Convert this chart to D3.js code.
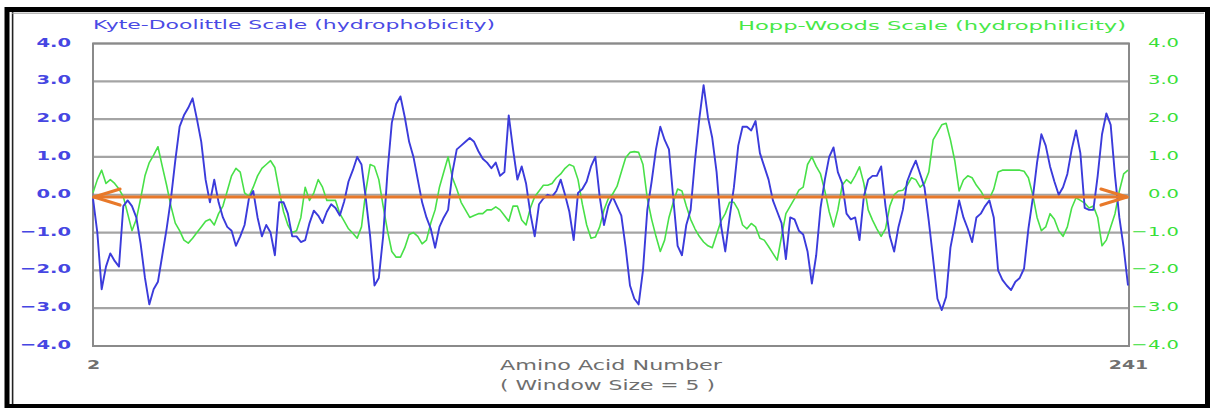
<!DOCTYPE html>
<html><head><meta charset="utf-8">
<script src="https://cdn.jsdelivr.net/npm/d3@7"></script>
<style>body{margin:0;background:#fff}svg{display:block}</style>
</head><body><svg id="c" width="1212" height="408"></svg>
<script>
// ---------- data ----------
const firstResidue = 2;
const lastResidue = 241;
// Kyte-Doolittle hydrophobicity, residues 2..241 (window 5)
const kyteDoolittle = [
 -0.1,-1.0,-2.5,-1.9,-1.55,-1.75,-1.9,-0.3,-0.15,
 -0.3,-0.6,-1.3,-2.2,-2.9,-2.5,-2.3,-1.6,-0.9,-0.1,
 0.9,1.8,2.1,2.3,2.55,2.0,1.4,0.4,-0.2,0.4,
 -0.2,-0.6,-0.85,-0.95,-1.35,-1.1,-0.8,-0.1,0.1,-0.6,
 -1.1,-0.8,-1.0,-1.6,-0.2,-0.2,-0.5,-1.1,-1.1,-1.25,
 -1.2,-0.75,-0.42,-0.55,-0.75,-0.45,-0.25,-0.35,-0.55,-0.18,
 0.35,0.65,1.0,0.8,-0.1,-1.1,-2.4,-2.2,-1.1,0.6,
 1.9,2.4,2.6,2.05,1.4,1.0,0.4,-0.2,-0.6,-0.9,
 -1.4,-0.85,-0.6,-0.4,0.6,1.2,1.3,1.4,1.5,1.4,
 1.15,0.95,0.85,0.7,0.85,0.5,0.6,2.1,1.2,0.4,
 0.75,0.3,-0.5,-1.1,-0.25,-0.1,0.0,-0.05,0.1,0.4,
 0.0,-0.45,-1.2,0.05,0.15,0.35,0.75,1.0,-0.05,-0.8,
 -0.3,-0.05,-0.3,-0.55,-1.4,-2.4,-2.75,-2.9,-2.0,-0.4,
 0.35,1.2,1.8,1.45,1.2,-0.1,-1.35,-1.6,-0.8,-0.4,
 0.9,2.0,2.9,2.05,1.5,0.6,-0.8,-1.5,-0.6,0.2,
 1.3,1.8,1.8,1.7,1.95,1.1,0.75,0.4,-0.15,-0.45,
 -0.75,-1.7,-0.6,-0.65,-0.95,-1.05,-1.5,-2.35,-1.6,-0.35,
 0.4,1.0,1.25,0.6,0.3,-0.5,-0.65,-0.6,-1.2,-0.05,
 0.4,0.5,0.5,0.75,-0.3,-1.1,-1.5,-0.85,-0.4,0.35,
 0.65,0.9,0.55,0.2,-0.7,-1.7,-2.75,-3.05,-2.7,-1.4,
 -0.8,-0.15,-0.6,-0.9,-1.25,-0.6,-0.5,-0.3,-0.15,-0.6,
 -2.0,-2.25,-2.4,-2.52,-2.3,-2.2,-1.95,-0.9,-0.1,0.85,
 1.6,1.3,0.75,0.35,0.0,0.2,0.55,1.2,1.7,1.1,
 -0.35,-0.4,-0.4,0.5,1.6,2.15,1.85,0.5,-0.6,-1.4,-2.4
];
// Hopp-Woods hydrophilicity, residues 2..241 (window 5)
const hoppWoods = [
 0.05,0.4,0.65,0.3,0.4,0.3,0.15,-0.05,-0.5,
 -0.95,-0.65,-0.1,0.5,0.85,1.05,1.27,0.75,0.25,-0.3,
 -0.75,-0.95,-1.2,-1.28,-1.15,-1.0,-0.85,-0.7,-0.65,-0.8,
 -0.5,-0.3,0.1,0.5,0.7,0.6,0.05,-0.05,0.2,0.5,
 0.7,0.8,0.9,0.72,0.1,-0.45,-0.8,-1.0,-0.95,-0.6,
 0.2,-0.15,0.05,0.4,0.2,-0.15,-0.15,-0.15,-0.5,-0.7,
 -0.9,-1.02,-1.15,-0.85,0.1,0.8,0.75,0.4,-0.3,-0.95,
 -1.5,-1.65,-1.65,-1.4,-1.05,-1.0,-1.1,-1.3,-1.2,-0.75,
 -0.4,0.2,0.6,1.0,0.45,0.15,-0.2,-0.4,-0.6,-0.55,
 -0.5,-0.5,-0.4,-0.4,-0.32,-0.4,-0.55,-0.7,-0.3,-0.3,
 -0.67,-0.8,-0.35,-0.05,0.1,0.25,0.25,0.3,0.45,0.55,
 0.7,0.8,0.75,0.4,-0.25,-0.8,-1.15,-1.12,-0.85,-0.4,
 -0.1,0.02,0.22,0.6,0.98,1.12,1.14,1.12,0.8,-0.1,
 -0.65,-1.1,-1.5,-1.2,-0.6,-0.2,0.15,0.1,-0.3,-0.65,
 -0.9,-1.1,-1.25,-1.35,-1.4,-1.05,-0.7,-0.5,-0.2,-0.2,
 -0.4,-0.8,-0.9,-0.76,-0.85,-1.15,-1.2,-1.37,-1.55,-1.73,
 -1.1,-0.5,-0.3,-0.1,0.12,0.2,0.8,1.0,0.75,0.55,
 0.1,-0.45,-0.85,-0.4,0.25,0.4,0.3,0.5,0.74,0.3,
 -0.4,-0.67,-0.9,-1.1,-0.9,-0.3,0.0,0.1,0.12,0.25,
 0.45,0.4,0.2,0.3,0.6,1.45,1.65,1.85,1.89,1.45,
 0.9,0.1,0.39,0.5,0.45,0.25,0.1,-0.1,-0.1,0.15,
 0.6,0.65,0.65,0.65,0.65,0.65,0.62,0.45,0.0,-0.6,
 -0.95,-0.85,-0.5,-0.65,-0.95,-1.1,-0.85,-0.35,-0.08,-0.15,
 -0.22,-0.35,-0.3,-0.6,-1.35,-1.2,-0.85,-0.5,0.1,0.55,0.65
];
const yTicks = [-4,-3,-2,-1,0,1,2,3,4];
const xTicks = [firstResidue, lastResidue];
const arrowLevel = -0.06;
const leftTitle = "Kyte-Doolittle Scale (hydrophobicity)";
const rightTitle = "Hopp-Woods Scale (hydrophilicity)";
const xTitle = "Amino Acid Number";
const xSubtitle = "( Window Size = 5 )";

// ---------- layout ----------
const svg = d3.select("#c");
const W = 1212, H = 408;
const m = {left: 93, right: 1128, top: 43.5, bottom: 346};
const FONT = "'DejaVu Sans', Verdana, sans-serif";
const BLUE = "#3b3bdb", GREEN = "#48e048", ORANGE = "#e8792a";

const x = d3.scaleLinear().domain([firstResidue, lastResidue]).range([m.left, m.right]);
const y = d3.scaleLinear().domain([-4, 4]).range([m.bottom, m.top]);

// outer frame
svg.append("rect").attr("x",7).attr("y",9.5).attr("width",1200.5).attr("height",397)
  .attr("fill","none").attr("stroke","#000").attr("stroke-width",5);
svg.append("line").attr("x1",12.6).attr("x2",12.6).attr("y1",12).attr("y2",404)
  .attr("stroke","#222").attr("stroke-width",1.6);
svg.append("line").attr("x1",12).attr("x2",1204).attr("y1",13.2).attr("y2",13.2)
  .attr("stroke","#999").attr("stroke-width",1);

// gridlines
svg.append("g").selectAll("line").data(yTicks).join("line")
  .attr("x1", m.left).attr("x2", m.right+1)
  .attr("y1", d => y(d)).attr("y2", d => y(d))
  .attr("stroke", "#a4a4a4").attr("stroke-width", 2.2);

// plot border
svg.append("rect").attr("x", m.left).attr("y", m.top)
  .attr("width", m.right + 1 - m.left).attr("height", m.bottom - m.top)
  .attr("fill","none").attr("stroke","#8a8a8a").attr("stroke-width",2);

// helper to stretch text horizontally
function stretch(sel, f) {
  sel.each(function(){
    const w = this.getComputedTextLength();
    d3.select(this).attr("textLength", w*f).attr("lengthAdjust","spacingAndGlyphs");
  });
}

// left axis
const ax = svg.append("g").attr("transform", `translate(${m.left},0)`)
  .call(d3.axisLeft(y).tickValues(yTicks).tickFormat(d3.format(".1f")).tickSize(0).tickPadding(22));
ax.select(".domain").remove();
ax.selectAll("text").attr("fill", "#4646e2").attr("font-family", FONT)
  .attr("font-size", 13).attr("font-weight","bold").attr("dy","0.2em").call(stretch, 1.5);

// right axis
const ar = svg.append("g").attr("transform", `translate(${m.right},0)`)
  .call(d3.axisRight(y).tickValues(yTicks).tickFormat(d3.format(".1f")).tickSize(0));
ar.select(".domain").remove();
ar.selectAll("text").attr("text-anchor","end").attr("x", 51)
  .attr("fill", "#38e038").attr("font-family", FONT)
  .attr("font-size", 13).attr("dy","0.2em").call(stretch, 1.5);

// bottom axis labels
const axb = svg.append("g").attr("transform", `translate(0,${m.bottom})`)
  .call(d3.axisBottom(x).tickValues(xTicks).tickFormat(d3.format("d")).tickSize(0).tickPadding(14));
axb.select(".domain").remove();
axb.selectAll("text").attr("fill","#707070").attr("font-family", FONT)
  .attr("font-size", 13).attr("font-weight","bold").call(stretch, 1.45);

// titles
svg.append("text").attr("x", m.left).attr("y", 29).text(leftTitle)
  .attr("fill","#4a4ae4").attr("font-family", FONT).attr("font-size", 12.5)
  .attr("textLength", 402).attr("lengthAdjust","spacingAndGlyphs");
svg.append("text").attr("x", 738).attr("y", 29.5).text(rightTitle)
  .attr("fill","#48e848").attr("font-family", FONT).attr("font-size", 12.5)
  .attr("textLength", 388).attr("lengthAdjust","spacingAndGlyphs");
svg.append("text").attr("x", 500).attr("y", 369.5).text(xTitle)
  .attr("fill","#6e6e6e").attr("font-family", FONT).attr("font-size", 14)
  .attr("textLength", 222).attr("lengthAdjust","spacingAndGlyphs");
svg.append("text").attr("x", 500).attr("y", 390).text(xSubtitle)
  .attr("fill","#6e6e6e").attr("font-family", FONT).attr("font-size", 14)
  .attr("textLength", 215).attr("lengthAdjust","spacingAndGlyphs");

// series
const line = d3.line().x((d,i) => x(firstResidue + i)).y(d => y(d));
svg.append("path").datum(hoppWoods).attr("d", line)
  .attr("fill","none").attr("stroke", GREEN).attr("stroke-width", 1.6).attr("stroke-linejoin","round");
svg.append("path").datum(kyteDoolittle).attr("d", line)
  .attr("fill","none").attr("stroke", BLUE).attr("stroke-width", 1.9).attr("stroke-linejoin","round");

// orange double arrow
const ya = y(arrowLevel), x0 = x(firstResidue), x1 = x(lastResidue);
const g = svg.append("g").attr("stroke", ORANGE).attr("fill","none")
  .attr("stroke-width", 3.2).attr("stroke-linecap","round").attr("stroke-linejoin","round");
g.append("line").attr("x1", x0+1).attr("x2", x1-1).attr("y1", ya).attr("y2", ya);
g.append("polyline").attr("points", `${x0+27},${ya-8} ${x0+1},${ya} ${x0+27},${ya+8}`);
g.append("polyline").attr("points", `${x1-27},${ya-8} ${x1-1},${ya} ${x1-27},${ya+8}`);
</script></body></html>
